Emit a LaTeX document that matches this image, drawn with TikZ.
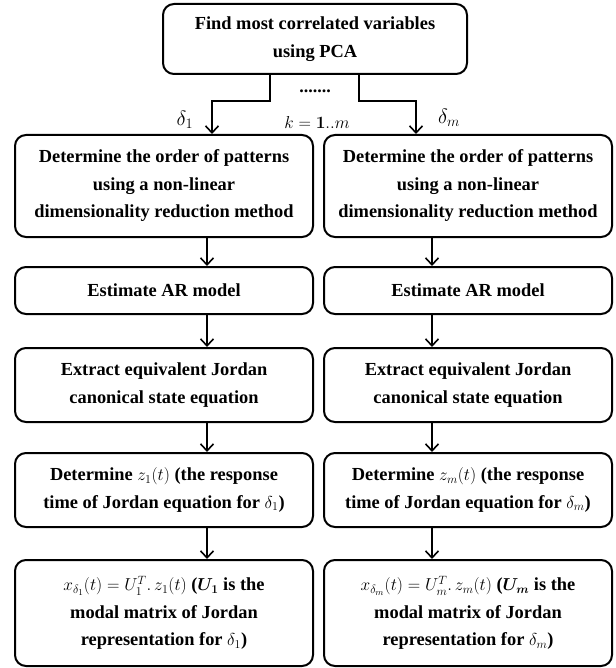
\documentclass[tikz,border=0pt]{standalone}
\usepackage{fontspec}
\setmainfont{Liberation Serif}
\usepackage{bm}
\usetikzlibrary{arrows.meta}
\begin{document}
\begin{tikzpicture}[x=1pt,y=-1pt,
  box/.style={draw, line width=2pt, rounded corners=11pt, align=center,
    inner sep=0pt, font=\fontsize{18.4}{27.5}\selectfont\bfseries},
  lcol/.style={box, minimum width=298pt},
  rcol/.style={box, minimum width=288pt},
  arr/.style={line width=1.6pt, -{Straight Barb[length=7pt,width=13pt,line width=1.6pt]}},
  lbl/.style={font=\fontsize{22}{22}\selectfont}]
\useasboundingbox (0,0) rectangle (615,668);
% boxes
\node[box, minimum width=304pt, minimum height=70pt] (top) at (315,39)
  {Find most correlated variables\\using PCA};
\node[lcol, minimum height=102pt] (L1) at (164,186)
  {Determine the order of patterns\\using a non-linear\\dimensionality reduction method};
\node[rcol, minimum height=102pt] (R1) at (468,186)
  {Determine the order of patterns\\using a non-linear\\dimensionality reduction method};
\node[lcol, minimum height=47pt] (L2) at (164,290.5) {Estimate AR model};
\node[rcol, minimum height=47pt] (R2) at (468,290.5) {Estimate AR model};
\node[lcol, minimum height=74pt] (L3) at (164,385)
  {Extract equivalent Jordan\\canonical state equation};
\node[rcol, minimum height=74pt] (R3) at (468,385)
  {Extract equivalent Jordan\\canonical state equation};
\node[lcol, minimum height=74pt] (L4) at (164,490)
  {Determine $z_1(t)$ (the response\\time of Jordan equation for $\delta_1$)};
\node[rcol, minimum height=74pt] (R4) at (468,490)
  {Determine $z_m(t)$ (the response\\time of Jordan equation for $\delta_m$)};
\node[lcol, minimum height=106pt] (L5) at (164,613)
  {$x_{\delta_1}(t)=U_1^{T}{.}\,z_1(t)$ ($\bm{U_1}$ is the\\modal matrix of Jordan\\representation for $\delta_1$)};
\node[rcol, minimum height=106pt] (R5) at (468,613)
  {$x_{\delta_m}(t)=U_m^{T}{.}\,z_m(t)$ ($\bm{U_m}$ is the\\modal matrix of Jordan\\representation for $\delta_m$)};
% column guide coordinates
\coordinate (al) at (207,0);
\coordinate (ar) at (432,0);
\coordinate (jl) at (270,101);
\coordinate (jr) at (359,101);
\coordinate (dl) at (212,0);
\coordinate (dr) at (416,0);
% split connectors
\draw[arr] (top.south -| jl) -- (jl) -- (jl -| dl) -- (L1.north -| dl);
\draw[arr] (top.south -| jr) -- (jr) -- (jr -| dr) -- (R1.north -| dr);
% column arrows
\draw[arr] (L1.south -| al) -- (L2.north -| al);
\draw[arr] (L2.south -| al) -- (L3.north -| al);
\draw[arr] (L3.south -| al) -- (L4.north -| al);
\draw[arr] (L4.south -| al) -- (L5.north -| al);
\draw[arr] (R1.south -| ar) -- (R2.north -| ar);
\draw[arr] (R2.south -| ar) -- (R3.north -| ar);
\draw[arr] (R3.south -| ar) -- (R4.north -| ar);
\draw[arr] (R4.south -| ar) -- (R5.north -| ar);
% labels
\node[lbl] (d1) at (185,120) {$\delta_1$};
\node[lbl] (dm) at (449,118) {$\delta_m$};
\node[font=\fontsize{18}{18}\selectfont\bfseries] (dots) at (315,91) {.......};
\node[font=\fontsize{19}{20}\selectfont] (k) at (317,123) {$k=\bm{1}..m$};
\end{tikzpicture}
\end{document}
